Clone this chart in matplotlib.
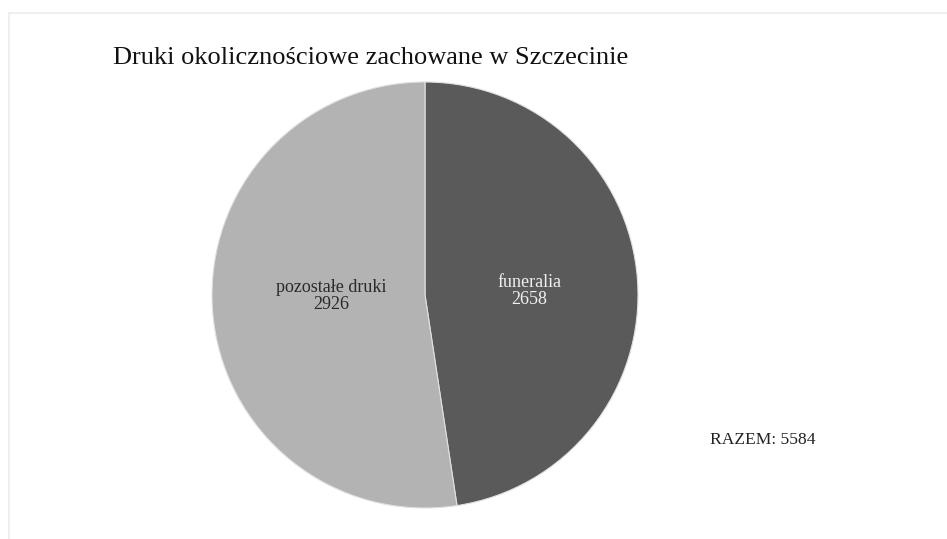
import matplotlib.pyplot as plt
from matplotlib.patches import Rectangle

plt.rcParams['font.family'] = ['Liberation Serif', 'DejaVu Serif']

labels = ['funeralia', 'pozostałe druki']
values = [2658, 2926]
colors = ['#5a5a5a', '#b3b3b3']
text_colors = ['#f0f0f0', '#2a2a2a']
total_label = 'RAZEM: 5584'
title = 'Druki okolicznościowe zachowane w Szczecinie'

W, H = 947, 539
fig = plt.figure(figsize=(W / 100, H / 100), dpi=100)
ax = fig.add_axes([0, 0, 1, 1])
ax.set_xlim(0, W)
ax.set_ylim(0, H)
ax.set_aspect('equal')
ax.axis('off')

# faint frame around the chart area
ax.add_patch(Rectangle((9, -5), W, H - 13 + 5, fill=False, edgecolor='#ececec', lw=1.2))

wedges, texts = ax.pie(values, labels=[f'{l}\n{v}' for l, v in zip(labels, values)],
                       colors=colors, startangle=90, counterclock=False,
                       center=(425, H - 295), radius=213, labeldistance=0.49,
                       wedgeprops=dict(edgecolor='#e0e0e0', linewidth=0.8),
                       frame=True)
# small nudges so labels sit like the original
nudges = [(0, -4), (10, 7)]
for t, c, (dx, dy) in zip(texts, text_colors, nudges):
    x, y = t.get_position()
    t.set_position((x + dx, y + dy))
    t.set_ha('center')
    t.set_va('center')
    t.set_multialignment('center')
    t.set_color(c)
    t.set_fontsize(13)
    t.set_linespacing(1.0)

ax.set_xlim(0, W)
ax.set_ylim(0, H)
ax.axis('off')

ax.text(113, H - 58, title, fontsize=19, ha='left', va='center', color='#111111')
ax.text(710, H - 440, total_label, fontsize=12.6, ha='left', va='center', color='#222222')

fig.savefig('out.png', dpi=100, facecolor='white')
